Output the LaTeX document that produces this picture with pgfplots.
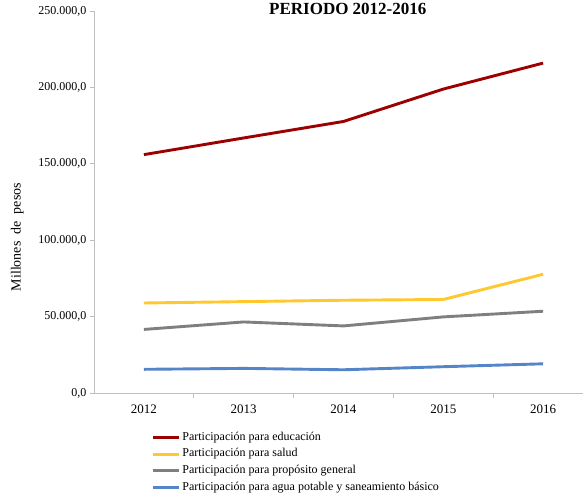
\documentclass[border=0pt]{standalone}
\usepackage{fontspec}
\setmainfont{Liberation Serif}
\usepackage{pgfplots}
\pgfplotsset{compat=1.18}
\definecolor{cEdu}{HTML}{9C0000}
\definecolor{cSal}{HTML}{FFC82E}
\definecolor{cGen}{HTML}{7F7F7F}
\definecolor{cAgu}{HTML}{5585C8}
\definecolor{cAx}{HTML}{BFBFBF}
\pgfplotsset{every axis title shift=0pt}
\begin{document}
\begin{tikzpicture}
\path[use as bounding box] (0pt,0pt) rectangle (587pt,497pt);
\begin{axis}[
  at={(94pt,104pt)}, anchor=south west,
  scale only axis, width=489pt, height=382pt,
  xmin=2011.5, xmax=2016.4, ymin=0, ymax=250000,
  axis x line=bottom, axis y line=left,
  axis line style={-, cAx, line width=0.8pt},
  xtick={2012,2013,2014,2015,2016},
  xticklabels={2012,2013,2014,2015,2016},
  minor xtick={2012.5,2013.5,2014.5,2015.5},
  major x tick style={draw=none},
  minor x tick style={cAx, line width=0.8pt},
  minor tick length=5pt,
  ytick={0,50000,100000,150000,200000,250000},
  y tick style={cAx, line width=0.8pt},
  major tick length=4pt,
  tick align=outside,
  scaled y ticks=false,
  /pgf/number format/assume math mode=true,
  yticklabel style={font=\fontsize{12}{14}\selectfont, /pgf/number format/.cd, fixed, fixed zerofill, precision=1, use comma, 1000 sep={.}},
  xticklabel style={font=\fontsize{13}{15}\selectfont, yshift=-4pt},
  ylabel={Millones\ \ de\ \ pesos},
  ylabel style={at={(axis description cs:-0.157,0.408)}, anchor=center, font=\fontsize{14}{16}\selectfont},
  title={\textbf{PERIODO 2012-2016}},
  title style={at={(axis description cs:0.519,1.021)}, anchor=north, inner sep=0pt, font=\fontsize{17}{19}\selectfont},
  legend style={at={(axis description cs:0.111,-0.089)}, anchor=north west, draw=none, fill=none,
    font=\fontsize{12}{14}\selectfont, row sep=0pt, column sep=1pt,
    nodes={text height=10pt, text depth=4.7pt, inner xsep=1pt, inner ysep=1pt}},
  legend cell align=left,
  legend image code/.code={\draw[#1] (0pt,0pt) -- (26pt,0pt);},
  every axis plot/.append style={line width=2.9pt},
  clip=false,
]
\addplot[cEdu] coordinates {(2012,156000) (2013,166900) (2014,177700) (2015,198900) (2016,215900)};
\addplot[cSal] coordinates {(2012,58900) (2013,59800) (2014,60700) (2015,61200) (2016,77700)};
\addplot[cGen] coordinates {(2012,41600) (2013,46500) (2014,43900) (2015,49800) (2016,53500)};
\addplot[cAgu] coordinates {(2012,15500) (2013,16100) (2014,15200) (2015,17200) (2016,19100)};
\legend{Participación para educación, Participación para salud, Participación para propósito general, Participación para agua potable y saneamiento básico}
\end{axis}
\end{tikzpicture}
\end{document}
